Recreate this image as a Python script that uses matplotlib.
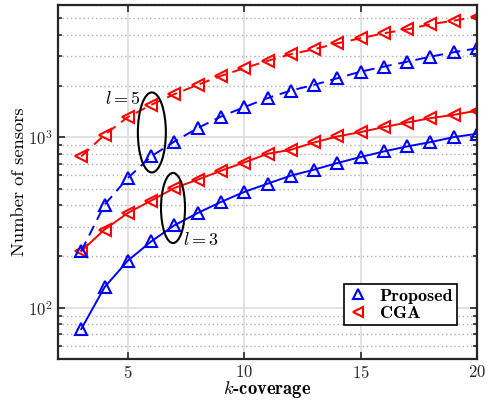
import matplotlib
matplotlib.use('Agg')
import matplotlib.pyplot as plt
from matplotlib.patches import Ellipse

plt.rcParams['font.family'] = 'serif'
plt.rcParams['font.serif'] = ['cmr10']
plt.rcParams['mathtext.fontset'] = 'cm'
plt.rcParams['axes.unicode_minus'] = False
plt.rcParams['axes.formatter.use_mathtext'] = True

k = list(range(3, 21))
prop_l3 = [75, 132, 189, 245, 305, 360, 418, 479, 535, 597, 647, 708, 768, 828, 886, 939, 1005, 1051]
cga_l3 = [215, 288, 360, 426, 505, 565, 638, 713, 802, 847, 935, 1014, 1076, 1151, 1224, 1299, 1358, 1439]
prop_l5 = [215, 403, 578, 774, 947, 1135, 1327, 1507, 1702, 1887, 2037, 2229, 2436, 2608, 2788, 2983, 3168, 3341]
cga_l5 = [774, 1037, 1317, 1555, 1796, 2037, 2300, 2553, 2817, 3085, 3298, 3574, 3826, 4094, 4318, 4624, 4856, 5118]

fig = plt.figure(figsize=(4.92, 4.01), dpi=100)
ax = fig.add_axes([58/492, 1-359/401, 419/492, 354/401])

mk = dict(markerfacecolor='none', markersize=8.5, markeredgewidth=1.5, linewidth=1.4)
ax.plot(k, prop_l3, '-', color='blue', marker='^', label='Proposed', **mk)
ax.plot(k, cga_l3, '-', color='red', marker='<', label='CGA', **mk)
ax.plot(k, prop_l5, '--', color='blue', marker='^', dashes=(5.5, 3.5), **mk)
ax.plot(k, cga_l5, '--', color='red', marker='<', dashes=(5.5, 3.5), **mk)

ax.set_yscale('log')
ax.set_xlim(2, 20)
ax.set_ylim(50, 6000)
ax.set_xticks([5, 10, 15, 20])
ax.grid(True, which='major', color='#dcdcdc', linewidth=1.2, linestyle='-')
ax.grid(True, which='minor', axis='y', color='#b0b0b0', linewidth=1.0, linestyle=(0, (1, 2)))
ax.set_axisbelow(True)
ax.tick_params(which='both', direction='in', top=True, right=True, labelsize=12, width=1.2, colors='#262626')
ax.tick_params(which='major', length=5)
ax.tick_params(which='minor', length=3)
for s in ax.spines.values():
    s.set_linewidth(1.6)
    s.set_color('#262626')

ax.set_xlabel(r'$k$-coverage', family='cmb10', fontsize=13.4, labelpad=-1)
ax.set_ylabel('Number of sensors', fontsize=13.3, labelpad=1)

ax.add_patch(Ellipse((0.224, 0.640), 0.0668, 0.226, transform=ax.transAxes,
                     fill=False, edgecolor='black', linewidth=1.5, zorder=5))
ax.add_patch(Ellipse((0.2745, 0.4266), 0.0573, 0.198, transform=ax.transAxes,
                     fill=False, edgecolor='black', linewidth=1.5, zorder=5))
ax.text(0.155, 0.735, r'$l=5$', transform=ax.transAxes, fontsize=13, ha='center', va='center')
ax.text(0.342, 0.338, r'$l=3$', transform=ax.transAxes, fontsize=13, ha='center', va='center')

leg = ax.legend(loc='lower right', bbox_to_anchor=(0.952, 0.096), borderaxespad=0,
                prop={'family': 'cmb10', 'size': 13}, markerscale=0.9,
                fancybox=False, edgecolor='black', framealpha=1, handlelength=1.2,
                handletextpad=0.6, borderpad=0.2, labelspacing=0.12)
for h in leg.legend_handles:
    h.set_linestyle('none')
leg.get_frame().set_linewidth(1.2)

fig.savefig('out.png', dpi=100)
